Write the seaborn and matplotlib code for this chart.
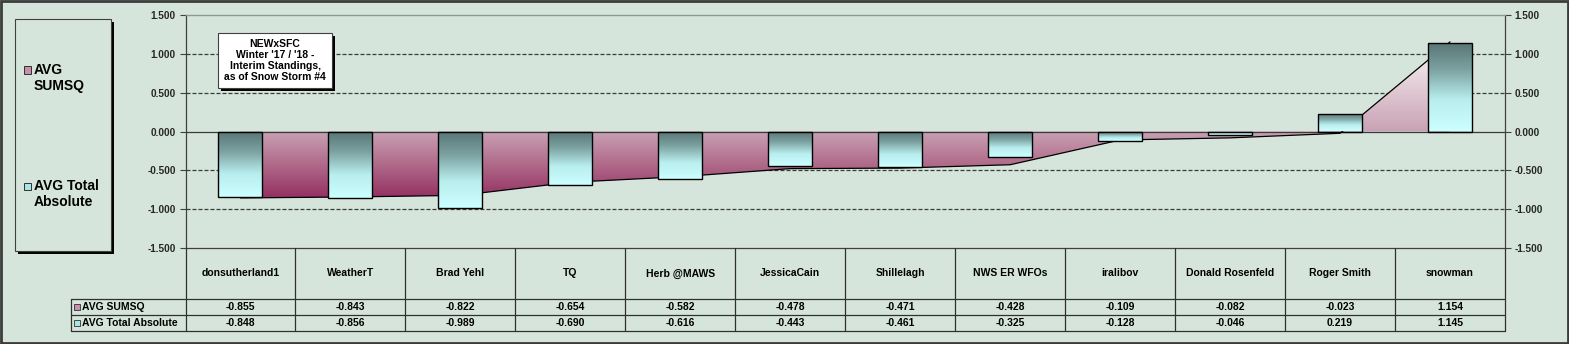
import numpy as np
import pandas as pd
import matplotlib
matplotlib.use("Agg")
import matplotlib.pyplot as plt
from matplotlib.patches import Rectangle
from matplotlib.colors import LinearSegmentedColormap
import seaborn as sns

# ---------------- data ----------------
categories = ["donsutherland1", "WeatherT", "Brad Yehl", "TQ", "Herb @MAWS", "JessicaCain",
              "Shillelagh", "NWS ER WFOs", "iralibov", "Donald Rosenfeld", "Roger Smith", "snowman"]
avg_sumsq = [-0.855, -0.843, -0.822, -0.654, -0.582, -0.478, -0.471, -0.428, -0.109, -0.082, -0.023, 1.154]
avg_total_abs = [-0.848, -0.856, -0.989, -0.690, -0.616, -0.443, -0.461, -0.325, -0.128, -0.046, 0.219, 1.145]
series_names = ["AVG SUMSQ", "AVG Total Absolute"]
legend_labels = ["AVG\nSUMSQ", "AVG Total\nAbsolute"]
y_ticks = [-1.5, -1.0, -0.5, 0.0, 0.5, 1.0, 1.5]
title_text = "NEWxSFC\nWinter '17 / '18 -\nInterim Standings,\nas of Snow Storm #4"

# ---------------- style ----------------
BG = "#d6e5db"
sns.set_theme(style="white")
plt.rcParams["font.family"] = ["Liberation Sans", "DejaVu Sans"]
plt.rcParams["font.weight"] = "bold"

W, H = 1569, 344
fig = plt.figure(figsize=(W / 100, H / 100), dpi=100)
fig.patch.set_facecolor(BG)

def fx(x):
    return x / W

def fy(y):
    return 1 - y / H

AX_L, AX_R, AX_T, AX_B = 185.5, 1505, 15, 248
ax = fig.add_axes([fx(AX_L), fy(AX_B), fx(AX_R) - fx(AX_L), (AX_B - AX_T) / H])
ax.set_facecolor(BG)

df = pd.DataFrame({"cat": categories, "abs": avg_total_abs, "sumsq": avg_sumsq})
xpos = np.arange(len(categories))

# ---- area series (gradient fill clipped to polygon) ----
area = ax.fill_between(xpos, avg_sumsq, 0, facecolor="none", edgecolor="none", zorder=2)
vmin, vmax = min(avg_sumsq), max(avg_sumsq)
z0 = (0 - vmin) / (vmax - vmin)
area_cmap = LinearSegmentedColormap.from_list(
    "area", [(0.0, "#943062"), (z0 * 0.5, "#b06a8a"), (z0, "#c9a2b4"), (1.0, "#fbf8f8")])
grad = np.linspace(0, 1, 256).reshape(-1, 1)
im = ax.imshow(grad, cmap=area_cmap, origin="lower", aspect="auto",
               extent=[0, len(categories) - 1, vmin, vmax], zorder=2, interpolation="bilinear")
im.set_clip_path(area.get_paths()[0], transform=ax.transData)
ax.plot(xpos, avg_sumsq, color="black", lw=0.9, zorder=2.5)

# ---- bars via seaborn ----
sns.barplot(data=df, x="cat", y="abs", width=0.4, ax=ax, color="#88aaaa",
            edgecolor="black", linewidth=1.0, zorder=4, saturation=1)
bar_cmap = LinearSegmentedColormap.from_list(
    "bar", [(0.0, "#ccffff"), (0.35, "#b9eeee"), (0.7, "#7ba0a0"), (1.0, "#587575")])
for p in list(ax.patches):
    x0, y0 = p.get_x(), p.get_y()
    w, h = p.get_width(), p.get_height()
    ylo, yhi = min(y0, y0 + h), max(y0, y0 + h)
    gi = ax.imshow(grad, cmap=bar_cmap, origin="lower", aspect="auto",
                   extent=[x0, x0 + w, ylo, yhi], zorder=3.5, interpolation="bilinear")
    gi.set_clip_path(p)
    p.set_facecolor("none")

# ---- axes, grid ----
ax.set_xlim(-0.5, len(categories) - 0.5)
ax.set_ylim(-1.5, 1.5)
for gv in [1.0, 0.5, -0.5, -1.0]:
    ax.axhline(gv, color="#3a3a3a", lw=0.9, dashes=(3.2, 1.6), zorder=1)
ax.axhline(0, color="#3a3a3a", lw=0.9, zorder=3)
ax.set_yticks(y_ticks)
ax.set_yticklabels([f"{v:.3f}" for v in y_ticks])
ax.tick_params(axis="y", which="both", left=True, right=True, labelleft=True, labelright=True,
               length=4, width=0.8, color="#404040", labelsize=7.2, pad=3, direction="out")
for lab in ax.get_yticklabels():
    lab.set_fontweight("bold")
ax.set_xticks([])
ax.set_xlabel("")
ax.set_ylabel("")
for side in ["left", "right", "bottom"]:
    ax.spines[side].set_color("#404040")
    ax.spines[side].set_linewidth(0.9)
ax.spines["top"].set_color("#8a9a92")
ax.spines["top"].set_linewidth(1.0)

# ---- data table ----
tr = ax.get_xaxis_transform()
ah = AX_B - AX_T
def ay(ypx):
    return -(ypx - AX_B) / ah

y_top, y_r1, y_r2, y_bot = ay(248), ay(299), ay(315), ay(331)
x_lab = -0.5 - (AX_L - 71) / 110.0
n = len(categories)
lc = "#303030"
lw_t = 0.9
for i in range(n + 1):
    xb = i - 0.5
    ax.plot([xb, xb], [y_top, y_bot], transform=tr, color=lc, lw=lw_t, clip_on=False, zorder=5)
ax.plot([x_lab, x_lab], [y_r1, y_bot], transform=tr, color=lc, lw=lw_t, clip_on=False, zorder=5)
for yy in [y_r1, y_r2, y_bot]:
    ax.plot([x_lab, n - 0.5], [yy, yy], transform=tr, color=lc, lw=lw_t, clip_on=False, zorder=5)
fs_t = 7.5
for i, c in enumerate(categories):
    ax.text(i, (y_top + y_r1) / 2, c, transform=tr, ha="center", va="center",
            fontsize=fs_t, fontweight="bold", color="black")
    ax.text(i, (y_r1 + y_r2) / 2, f"{avg_sumsq[i]:.3f}", transform=tr, ha="center", va="center",
            fontsize=fs_t, fontweight="bold", color="black")
    ax.text(i, (y_r2 + y_bot) / 2, f"{avg_total_abs[i]:.3f}", transform=tr, ha="center", va="center",
            fontsize=fs_t, fontweight="bold", color="black")

marker_cols = ["#c98fa8", "#a8e6e6"]
for r, (name, mc) in enumerate(zip(series_names, marker_cols)):
    yc_px = 307 if r == 0 else 323
    fig.add_artist(Rectangle((fx(74), fy(yc_px + 3)), fx(6), 6 / H, transform=fig.transFigure,
                             facecolor=mc, edgecolor="#303030", lw=0.6, zorder=6))
    fig.text(fx(81.5), fy(yc_px), name, ha="left", va="center", fontsize=fs_t,
             fontweight="bold", color="black")

# ---- legend box ----
fig.add_artist(Rectangle((fx(18), fy(254)), fx(96), (254 - 22) / H, transform=fig.transFigure,
                         facecolor="black", edgecolor="none", zorder=6))
fig.add_artist(Rectangle((fx(15), fy(251)), fx(96), (251 - 19) / H, transform=fig.transFigure,
                         facecolor=BG, edgecolor="#404040", lw=0.8, zorder=6.1))
leg_y = [69.5, 185.5]
for lbl, mc, ly in zip(legend_labels, marker_cols, leg_y):
    fig.add_artist(Rectangle((fx(24), fy(ly + 4)), fx(7), 7 / H, transform=fig.transFigure,
                             facecolor=mc, edgecolor="#303030", lw=0.7, zorder=6.2))
    first, second = lbl.split("\n")
    fig.text(fx(34), fy(ly), first, ha="left", va="center", fontsize=10,
             fontweight="bold", color="black", zorder=6.3)
    fig.text(fx(34), fy(ly + 16.5), second, ha="left", va="center", fontsize=10,
             fontweight="bold", color="black", zorder=6.3)

# ---- title box ----
fig.add_artist(Rectangle((fx(221), fy(91)), fx(114), (91 - 36) / H, transform=fig.transFigure,
                         facecolor="black", edgecolor="none", zorder=6))
fig.add_artist(Rectangle((fx(218), fy(88)), fx(114), (88 - 33) / H, transform=fig.transFigure,
                         facecolor="white", edgecolor="#404040", lw=0.8, zorder=6.1))
fig.text(fx(275), fy(60.5), title_text, ha="center", va="center", fontsize=7.5,
         fontweight="bold", color="black", linespacing=1.15, zorder=6.3)

# ---- outer border ----
fig.add_artist(Rectangle((0.0005, 0.002), 0.999, 0.996, transform=fig.transFigure,
                         facecolor="none", edgecolor="#3c3c3c", lw=2.0, zorder=10))

fig.savefig("out.png", dpi=100, facecolor=fig.get_facecolor())
